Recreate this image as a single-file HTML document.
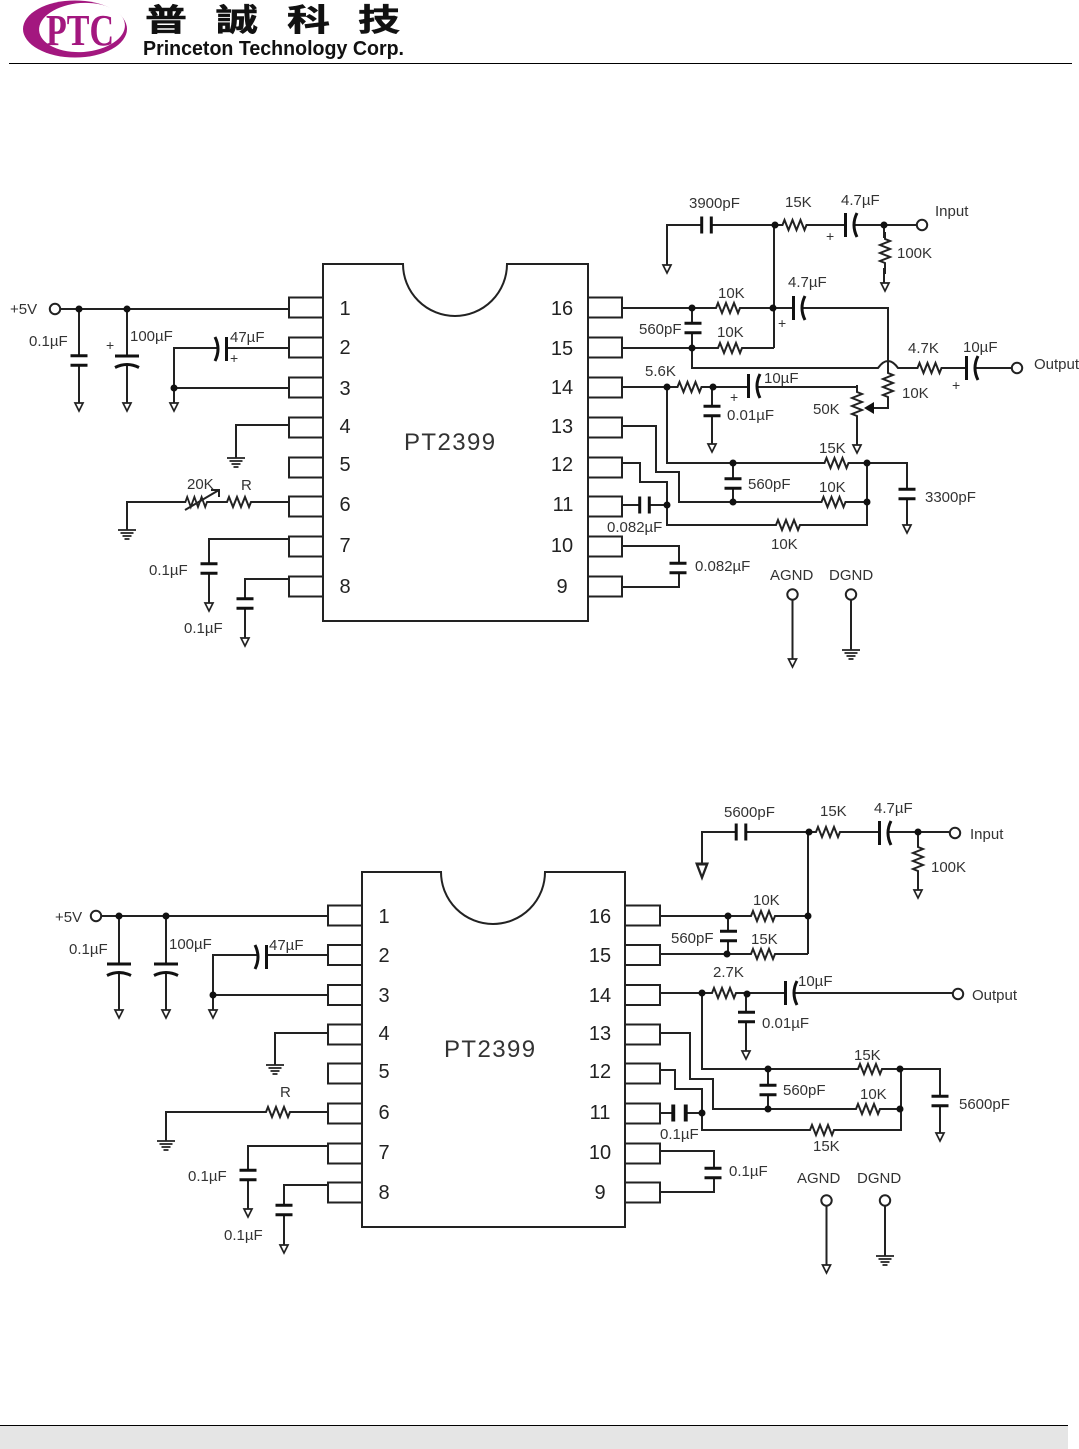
<!DOCTYPE html>
<html><head><meta charset="utf-8"><title>PT2399</title>
<style>
html,body{margin:0;padding:0;background:#fff;width:1079px;height:1449px;overflow:hidden}
svg{display:block}
text{font-family:"Liberation Sans","Noto Sans CJK TC",sans-serif;font-size:15px;fill:#333}
.n{font-size:20px;text-anchor:middle;fill:#222}
.w{fill:none;stroke:#222;stroke-width:2}
.t{fill:#333;font-size:24px;letter-spacing:1.4px}
.z{font-family:"Noto Sans CJK TC","Liberation Sans",sans-serif;font-size:31px;font-weight:bold;fill:#111;stroke:#111;stroke-width:.5}
.pl{font-size:14px}
</style></head><body>
<svg width="1079" height="1449" viewBox="0 0 1079 1449" xmlns="http://www.w3.org/2000/svg">
<defs>
<g id="rh"><rect x="-15" y="-3" width="30" height="6" fill="#fff"/><path d="M-21 0H-14l2-5 4 10 4-10 4 10 4-10 4 10 2-5H21" fill="none" stroke="#222" stroke-width="2"/></g>
<g id="c"><rect x="-11" y="-3.5" width="22" height="7" fill="#fff"/><path d="M-8.5-4.8H8.5M-8.5 4.8H8.5" fill="none" stroke="#111" stroke-width="3"/></g>
<g id="cp"><rect x="-12" y="-3.5" width="24" height="7" fill="#fff"/><path d="M-12-4.5H12M-12 7Q0 1 12 7" fill="none" stroke="#111" stroke-width="3"/></g>
<path id="a" d="M-4 0H4L0 8Z" fill="#fff" stroke="#222" stroke-width="1.7"/>
<path id="g" d="M-9 0H9M-6.5 3H6.5M-4.5 6H4.5M-2.5 9H2.5" fill="none" stroke="#222" stroke-width="1.8"/>
<circle id="o" r="5.2" fill="#fff" stroke="#222" stroke-width="2"/>
<circle id="p" r="3.5" fill="#111"/>
</defs>

<!-- header -->
<ellipse cx="75" cy="29" rx="52" ry="28.5" fill="#a3177f"/>
<ellipse cx="82" cy="27.500" rx="43" ry="24.500" fill="#fff" transform="rotate(-4 82 27.500)"/>
<text x="46" y="45" textLength="68" lengthAdjust="spacingAndGlyphs" style="font-family:'Liberation Serif',serif;font-size:44px;font-weight:bold;fill:#a3177f">PTC</text>
<text class="z" x="145" y="31" textLength="42" lengthAdjust="spacingAndGlyphs">普</text>
<text class="z" x="216" y="31" textLength="42" lengthAdjust="spacingAndGlyphs">誠</text>
<text class="z" x="287" y="31" textLength="43" lengthAdjust="spacingAndGlyphs">科</text>
<text class="z" x="358" y="31" textLength="42" lengthAdjust="spacingAndGlyphs">技</text>
<text x="143" y="55" textLength="261" lengthAdjust="spacingAndGlyphs" style="font-size:20px;font-weight:bold;fill:#111">Princeton Technology Corp.</text>
<rect x="9" y="63" width="1063" height="1" fill="#000"/>

<!-- DIAGRAM 1 -->
<path class="w" d="M323 264H403A52 52 0 0 0 507 264H588V621H323Z"/>
<path class="w" d="M323 297.500H289V317.500H323M323 337.500H289V357.500H323M323 377.500H289V397.500H323M323 417.500H289V437.500H323M323 457.500H289V477.500H323M323 496.500H289V516.500H323M323 536.500H289V556.500H323M323 576.500H289V596.500H323M588 297.500H622V317.500H588M588 337.500H622V357.500H588M588 377.500H622V397.500H588M588 417.500H622V437.500H588M588 457.500H622V477.500H588M588 496.500H622V516.500H588M588 536.500H622V556.500H588M588 576.500H622V596.500H588"/>
<text class="n" x="345" y="315">1</text><text class="n" x="345" y="354">2</text><text class="n" x="345" y="395">3</text><text class="n" x="345" y="433">4</text><text class="n" x="345" y="471">5</text><text class="n" x="345" y="511">6</text><text class="n" x="345" y="552">7</text><text class="n" x="345" y="593">8</text>
<text class="n" x="562" y="315">16</text><text class="n" x="562" y="355">15</text><text class="n" x="562" y="394">14</text><text class="n" x="562" y="433">13</text><text class="n" x="562" y="471">12</text><text class="n" x="563" y="511">11</text><text class="n" x="562" y="552">10</text><text class="n" x="562" y="593">9</text>
<text class="t" x="404" y="450">PT2399</text>
<path class="w" d="M60 309H289M79 309V403M127 309V403M174 403V348H289M174 388H289M289 425H236V458M289 502H127V530M289 539H209V603M289 579H245V638
M667 265V225H917M884 225V283M774 225V348M622 308H888V360M622 348H774M692 308V368H878Q888 354 898 368H1011M888 360V408H874M622 387H857V447M712 387V444M667 387V463H907V525M733 463V502M622 426H656V472H679V502H867M622 463H640V482H667V525H867V463M622 505H667M622 546H679V587H622M792.500 600V659M851 600V650"/>
<use href="#rh" x="796.500" y="225"/><use href="#rh" x="730" y="308"/><use href="#rh" x="732" y="348"/><use href="#rh" x="691.500" y="387"/><use href="#rh" x="931.500" y="368"/><use href="#rh" x="838.500" y="463"/><use href="#rh" x="835.500" y="502"/><use href="#rh" x="790" y="525"/>
<use href="#rh" transform="translate(198,502) scale(.9,1)"/><use href="#rh" x="241" y="502"/>
<use href="#rh" transform="translate(885,253) rotate(90)"/><use href="#rh" transform="translate(888,387) rotate(90)"/><use href="#rh" transform="translate(857,406) rotate(90)"/>
<path class="w" d="M185 510L219 490M211 490H219V497"/>
<path d="M874 402V414L864 408Z" fill="#111"/>
<use href="#c" x="79" y="360.500"/><use href="#cp" x="127" y="360.500"/>
<use href="#cp" transform="translate(222,349) rotate(90)"/>
<use href="#c" x="209" y="568.500"/><use href="#c" x="245" y="603.500"/>
<use href="#c" transform="translate(706.500,225) rotate(90)"/>
<use href="#cp" transform="translate(850,225) rotate(-90)"/>
<use href="#cp" transform="translate(798,308) rotate(-90)"/>
<use href="#cp" transform="translate(971,368) rotate(-90)"/>
<use href="#cp" transform="translate(753,386) rotate(-90)"/>
<use href="#c" x="693" y="328"/><use href="#c" x="712" y="411"/><use href="#c" x="733" y="483.500"/><use href="#c" x="907" y="494"/><use href="#c" x="678" y="568"/>
<use href="#c" transform="translate(644.500,505) rotate(90)"/>
<use href="#a" x="79" y="403"/><use href="#a" x="127" y="403"/><use href="#a" x="174" y="403"/><use href="#a" x="209" y="603"/><use href="#a" x="245" y="638"/><use href="#a" x="667" y="265"/><use href="#a" x="885" y="283"/><use href="#a" x="712" y="444"/><use href="#a" x="857" y="445"/><use href="#a" x="907" y="525"/><use href="#a" x="792.500" y="659"/>
<use href="#g" x="236" y="458"/><use href="#g" x="127" y="530"/><use href="#g" x="851" y="650"/>
<use href="#o" x="55" y="309"/><use href="#o" x="922" y="225"/><use href="#o" x="1017" y="368"/><use href="#o" x="792.500" y="594.500"/><use href="#o" x="851" y="594.500"/>
<use href="#p" x="79" y="309"/><use href="#p" x="127" y="309"/><use href="#p" x="174" y="388"/><use href="#p" x="775" y="225"/><use href="#p" x="884" y="225"/><use href="#p" x="692" y="308"/><use href="#p" x="773" y="308"/><use href="#p" x="692" y="348"/><use href="#p" x="667" y="387"/><use href="#p" x="713" y="387"/><use href="#p" x="733" y="463"/><use href="#p" x="867" y="463"/><use href="#p" x="733" y="502"/><use href="#p" x="867" y="502"/><use href="#p" x="667" y="505"/>
<text x="10" y="314">+5V</text><text x="29" y="346">0.1µF</text><text x="130" y="341">100µF</text><text class="pl" x="106" y="350">+</text><text x="230" y="342">47µF</text><text class="pl" x="230" y="363">+</text>
<text x="187" y="489">20K</text><text x="241" y="490">R</text><text x="149" y="575">0.1µF</text><text x="184" y="633">0.1µF</text>
<text x="689" y="208">3900pF</text><text x="785" y="207">15K</text><text x="841" y="205">4.7µF</text><text x="935" y="216">Input</text><text class="pl" x="826" y="241">+</text><text x="897" y="258">100K</text>
<text x="718" y="298">10K</text><text x="717" y="337">10K</text><text x="639" y="334">560pF</text><text x="788" y="287">4.7µF</text><text class="pl" x="778" y="328">+</text>
<text x="908" y="353">4.7K</text><text x="963" y="352">10µF</text><text class="pl" x="952" y="390">+</text><text x="1034" y="369">Output</text><text x="902" y="398">10K</text>
<text x="645" y="376">5.6K</text><text x="764" y="383">10µF</text><text class="pl" x="730" y="402">+</text><text x="813" y="414">50K</text><text x="727" y="420">0.01µF</text>
<text x="819" y="453">15K</text><text x="748" y="489">560pF</text><text x="819" y="492">10K</text><text x="925" y="502">3300pF</text><text x="771" y="549">10K</text><text x="607" y="532">0.082µF</text><text x="695" y="571">0.082µF</text><text x="770" y="580">AGND</text><text x="829" y="580">DGND</text>

<!-- DIAGRAM 2 -->
<path class="w" d="M362 872H441A52 52 0 0 0 545 872H625V1227H362Z"/>
<path class="w" d="M362 905.500H328V925.500H362M362 945H328V965H362M362 985H328V1005H362M362 1024.500H328V1044.500H362M362 1063.500H328V1083.500H362M362 1103.500H328V1123.500H362M362 1143.500H328V1163.500H362M362 1182.500H328V1202.500H362M625 905.500H660V925.500H625M625 945H660V965H625M625 985H660V1005H625M625 1024.500H660V1044.500H625M625 1063.500H660V1083.500H625M625 1103.500H660V1123.500H625M625 1143.500H660V1163.500H625M625 1182.500H660V1202.500H625"/>
<text class="n" x="384" y="923">1</text><text class="n" x="384" y="962">2</text><text class="n" x="384" y="1002">3</text><text class="n" x="384" y="1040">4</text><text class="n" x="384" y="1078">5</text><text class="n" x="384" y="1119">6</text><text class="n" x="384" y="1159">7</text><text class="n" x="384" y="1199">8</text>
<text class="n" x="600" y="923">16</text><text class="n" x="600" y="962">15</text><text class="n" x="600" y="1002">14</text><text class="n" x="600" y="1040">13</text><text class="n" x="600" y="1078">12</text><text class="n" x="600" y="1119">11</text><text class="n" x="600" y="1159">10</text><text class="n" x="600" y="1199">9</text>
<text class="t" x="444" y="1057">PT2399</text>
<path class="w" d="M101 916H328M119 916V1010M166 916V1010M213 1010V955H328M213 995H328M328 1033H275V1065M328 1112H166V1141M328 1146H248V1209M328 1185H284V1245
M702 864V832H949M918 832V890M808 832V954M660 916H808M660 954H808M728 916V954M660 993H953M702 993V1069H940V1133M746 993V1051M768 1069V1109M660 1033H690V1079H713V1109H900M660 1070H675V1089H702V1130H901V1069M660 1113H702M660 1151H714V1192H660M826.500 1206V1265M885 1206V1256"/>
<use href="#rh" x="830" y="832"/><use href="#rh" x="765" y="916"/><use href="#rh" x="765" y="954"/><use href="#rh" x="726" y="993"/><use href="#rh" x="872" y="1069"/><use href="#rh" x="870" y="1109"/><use href="#rh" x="824" y="1130"/><use href="#rh" x="280" y="1112"/>
<use href="#rh" transform="translate(918,861) rotate(90)"/>
<use href="#cp" x="119" y="968.500"/><use href="#cp" x="166" y="968.500"/>
<use href="#cp" transform="translate(262,957) rotate(90)"/>
<use href="#c" x="248" y="1175"/><use href="#c" x="284" y="1210"/>
<use href="#c" transform="translate(741,832) rotate(90)"/>
<use href="#cp" transform="translate(884,833) rotate(-90)"/>
<use href="#cp" transform="translate(790,993) rotate(-90)"/>
<use href="#c" x="728.500" y="936"/><use href="#c" x="746.500" y="1017"/><use href="#c" x="768" y="1090"/><use href="#c" x="940" y="1101"/><use href="#c" x="713" y="1173"/>
<use href="#c" transform="translate(679.500,1113) rotate(90) scale(1,1.300)"/>
<use href="#a" x="119" y="1010"/><use href="#a" x="166" y="1010"/><use href="#a" x="213" y="1010"/><use href="#a" x="248" y="1209"/><use href="#a" x="284" y="1245"/><use href="#a" transform="translate(702,864) scale(1.300,1.700)"/><use href="#a" x="918" y="890"/><use href="#a" x="746" y="1051"/><use href="#a" x="940" y="1133"/><use href="#a" x="826.500" y="1265"/>
<use href="#g" x="275" y="1065"/><use href="#g" x="166" y="1141"/><use href="#g" x="885" y="1256"/>
<use href="#o" x="96" y="916"/><use href="#o" x="955" y="833"/><use href="#o" x="958" y="994"/><use href="#o" x="826.500" y="1200.500"/><use href="#o" x="885" y="1200.500"/>
<use href="#p" x="119" y="916"/><use href="#p" x="166" y="916"/><use href="#p" x="213" y="995"/><use href="#p" x="809" y="832"/><use href="#p" x="918" y="832"/><use href="#p" x="728" y="916"/><use href="#p" x="808" y="916"/><use href="#p" x="727" y="954"/><use href="#p" x="702" y="993"/><use href="#p" x="747" y="994"/><use href="#p" x="768" y="1069"/><use href="#p" x="900" y="1069"/><use href="#p" x="768" y="1109"/><use href="#p" x="900" y="1109"/><use href="#p" x="702" y="1113"/>
<text x="55" y="922">+5V</text><text x="69" y="954">0.1µF</text><text x="169" y="949">100µF</text><text x="269" y="950">47µF</text><text x="280" y="1097">R</text><text x="188" y="1181">0.1µF</text><text x="224" y="1240">0.1µF</text>
<text x="724" y="817">5600pF</text><text x="820" y="816">15K</text><text x="874" y="813">4.7µF</text><text x="970" y="839">Input</text><text x="931" y="872">100K</text>
<text x="753" y="905">10K</text><text x="751" y="944">15K</text><text x="671" y="943">560pF</text><text x="713" y="977">2.7K</text><text x="798" y="986">10µF</text><text x="972" y="1000">Output</text><text x="762" y="1028">0.01µF</text>
<text x="854" y="1060">15K</text><text x="783" y="1095">560pF</text><text x="860" y="1099">10K</text><text x="959" y="1109">5600pF</text><text x="813" y="1151">15K</text><text x="660" y="1139">0.1µF</text><text x="729" y="1176">0.1µF</text><text x="797" y="1183">AGND</text><text x="857" y="1183">DGND</text>

<!-- footer -->
<rect x="0" y="1425" width="1068" height="1" fill="#000"/>
<rect x="0" y="1426" width="1068" height="23" fill="#e5e5e5"/>
</svg>
</body></html>
